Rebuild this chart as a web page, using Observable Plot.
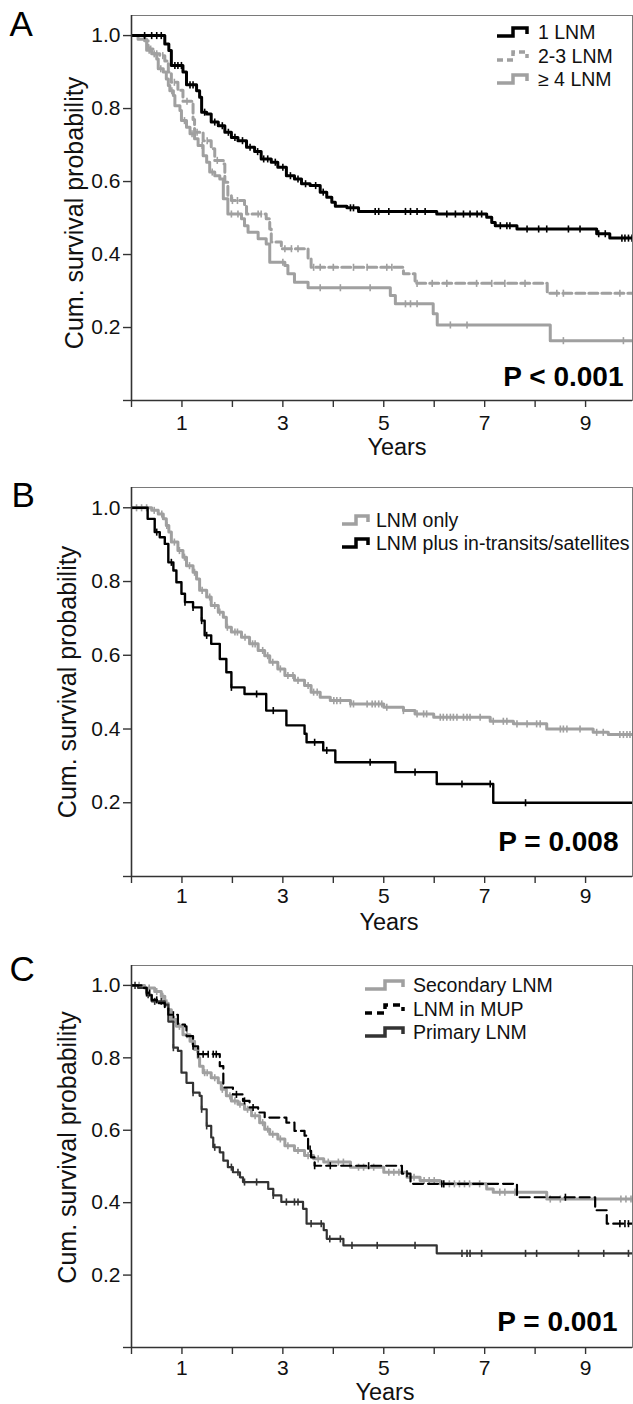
<!DOCTYPE html>
<html><head><meta charset="utf-8">
<script src="https://cdn.jsdelivr.net/npm/d3@7"></script>
<script src="https://cdn.jsdelivr.net/npm/@observablehq/plot@0.6"></script>
<style>
html,body{margin:0;padding:0;background:#fff;}
#root{position:relative;width:633px;height:1404px;overflow:hidden;font-family:"Liberation Sans",Arial,sans-serif;}
.panel{position:absolute;left:0;width:633px;}
.lg{position:absolute;font-size:19.5px;color:#111;white-space:nowrap;line-height:20px;}
.lg svg{position:absolute;top:3px;}
.lg span{position:absolute;top:0;}
</style></head>
<body><div id="root"></div>
<script>
// ---------- Panel A : number of LNM ----------
const aT1 = [0,0.66,0.74,0.79,1.02,1.09,1.29,1.35,1.39,1.49,1.58,1.72,1.85,1.98,2.11,2.28,2.44,2.57,2.77,2.90,3.07,3.23,3.37,3.54,3.74,3.87,3.97,4.04,4.27,4.50,6.05,7.04,7.14,7.21,7.64,9.22,9.48];
const aS1 = [1,0.977,0.959,0.918,0.90,0.865,0.849,0.831,0.79,0.785,0.763,0.753,0.735,0.721,0.712,0.694,0.682,0.662,0.653,0.639,0.616,0.607,0.594,0.589,0.571,0.557,0.543,0.532,0.528,0.518,0.511,0.502,0.488,0.479,0.470,0.457,0.445];
const aC1 = [0.26,0.40,0.50,0.59,0.86,0.92,0.99,1.16,1.22,1.45,1.65,1.80,1.92,2.05,2.2,2.35,2.5,2.62,2.7,2.85,3.0,3.15,3.3,3.45,3.65,3.8,4.34,4.40,4.83,4.9,5.1,5.43,5.53,5.66,5.82,6.25,6.42,6.58,6.71,6.85,6.94,7.31,7.44,7.5,7.84,8.07,8.23,8.66,8.89,9.26,9.39,9.72,9.78,9.85,9.92];
const aT2 = [0,0.26,0.33,0.43,0.56,0.66,0.73,0.79,0.92,1.02,1.22,1.25,1.42,1.58,1.65,1.82,1.85,1.91,1.98,2.24,2.28,2.67,2.74,2.77,2.97,3.50,3.56,5.39,5.62,8.24];
const aS2 = [1,0.986,0.963,0.950,0.945,0.93,0.90,0.872,0.85,0.82,0.77,0.735,0.712,0.69,0.658,0.648,0.598,0.562,0.548,0.534,0.511,0.498,0.47,0.434,0.416,0.388,0.365,0.347,0.321,0.294];
const aC2 = [0.38,0.5,0.62,0.85,1.1,1.3,1.5,1.7,2.0,2.1,2.51,2.57,3.04,3.17,3.30,3.61,3.74,4.0,4.4,4.67,5.06,5.16,5.66,5.96,6.25,6.84,7.14,7.4,7.8,8.43,8.56,9.68];
const aT3 = [0,0.13,0.30,0.40,0.50,0.53,0.63,0.69,0.73,0.76,0.83,0.86,0.96,0.99,1.09,1.16,1.25,1.32,1.42,1.49,1.55,1.65,1.75,1.82,1.91,2.18,2.24,2.31,2.51,2.67,2.74,3.04,3.10,3.23,3.50,5.13,5.23,5.98,6.06,8.30];
const aS3 = [1,0.99,0.96,0.95,0.936,0.909,0.90,0.881,0.863,0.849,0.836,0.808,0.795,0.767,0.749,0.731,0.717,0.699,0.671,0.653,0.626,0.616,0.607,0.553,0.511,0.498,0.479,0.461,0.443,0.429,0.379,0.37,0.347,0.324,0.309,0.288,0.265,0.238,0.207,0.164];
const aC3 = [0.35,0.45,0.58,0.8,1.05,1.2,1.4,1.6,1.98,2.11,3.0,3.74,4.14,4.73,5.43,5.53,5.66,6.32,6.65,8.56,9.75];
const aLegend = ["1 LNM", "2-3 LNM", "\u2265 4 LNM"];

// ---------- Panel B : in-transits / satellites ----------
const bT1 = [0,0.40,0.53,0.63,0.69,0.74,0.79,0.92,1.02,1.09,1.22,1.29,1.35,1.49,1.58,1.72,1.82,1.88,1.98,2.18,2.34,2.51,2.64,2.74,2.90,3.04,3.23,3.43,3.56,3.74,3.94,4.34,5.0,5.39,5.62,5.99,7.11,7.57,8.23,9.15,9.45];
const bS1 = [1,0.993,0.983,0.97,0.952,0.934,0.907,0.884,0.866,0.843,0.825,0.807,0.776,0.758,0.735,0.717,0.703,0.676,0.663,0.649,0.631,0.613,0.599,0.581,0.563,0.545,0.532,0.518,0.50,0.486,0.477,0.468,0.459,0.45,0.441,0.432,0.421,0.414,0.40,0.391,0.385];
const bC1 = [0.1,0.2,0.3,0.45,0.6,0.7,0.85,0.95,1.05,1.15,1.25,1.4,1.55,1.65,1.75,1.9,2.05,2.1,2.25,2.4,2.45,2.6,2.7,2.8,2.95,3.1,3.2,3.3,3.5,3.61,3.68,4.01,4.07,4.14,4.34,4.40,4.67,4.77,4.83,4.90,4.96,5.06,5.39,5.66,5.79,5.85,6.12,6.18,6.25,6.32,6.38,6.45,6.58,6.65,6.71,6.91,7.17,7.37,7.44,7.64,7.84,8.03,8.10,8.5,8.56,8.63,8.89,9.22,9.35,9.68,9.75,9.82,9.88];
const bT2 = [0,0.32,0.46,0.56,0.66,0.73,0.83,0.89,0.99,1.06,1.22,1.39,1.45,1.58,1.75,1.88,1.98,2.24,2.67,3.07,3.43,3.47,3.80,4.04,5.23,6.05,7.17];
const bS2 = [1,0.97,0.934,0.92,0.902,0.852,0.83,0.798,0.767,0.744,0.73,0.694,0.654,0.631,0.59,0.554,0.513,0.495,0.45,0.41,0.387,0.364,0.342,0.31,0.283,0.251,0.20];
const bC2 = [0.5,0.79,1.06,1.22,1.39,1.49,1.98,2.48,2.81,3.63,3.87,4.73,5.62,6.55,7.11,7.81];
const bLegend = ["LNM only", "LNM plus in-transits/satellites"];

// ---------- Panel C : origin of LNM ----------
const cT1 = [0,0.26,0.46,0.59,0.66,0.73,0.79,0.89,1.02,1.16,1.25,1.32,1.35,1.42,1.58,1.72,1.78,1.88,1.98,2.11,2.24,2.38,2.54,2.64,2.74,2.90,3.04,3.23,3.43,3.61,3.81,4.34,5.0,5.46,5.72,6.12,7.04,7.17,8.23];
const cS1 = [1,0.993,0.983,0.97,0.951,0.933,0.906,0.887,0.864,0.846,0.823,0.80,0.777,0.759,0.745,0.731,0.713,0.695,0.681,0.672,0.658,0.64,0.621,0.603,0.589,0.576,0.557,0.544,0.53,0.521,0.512,0.498,0.484,0.47,0.461,0.452,0.438,0.429,0.41];
const cC1 = [0.15,0.35,0.5,0.62,0.7,0.85,0.95,1.1,1.2,1.3,1.45,1.5,1.65,1.8,1.95,2.05,2.15,2.3,2.45,2.6,2.7,2.8,2.95,3.1,3.3,3.5,3.7,3.9,4.1,4.2,4.5,4.6,4.8,5.1,5.2,5.3,5.6,5.8,5.9,6.0,6.3,6.4,6.5,6.6,6.7,6.9,7.3,7.4,7.6,8.3,8.5,9.7,9.8,9.9];
const cT2 = [0,0.20,0.30,0.40,0.53,0.66,0.73,0.92,1.06,1.09,1.22,1.32,1.75,1.82,2.01,2.21,2.34,2.51,2.64,3.07,3.23,3.43,3.50,3.56,3.63,5.36,5.53,7.64,9.19,9.42];
const cS2 = [1,0.993,0.979,0.96,0.951,0.937,0.919,0.892,0.887,0.86,0.832,0.81,0.777,0.718,0.699,0.681,0.663,0.649,0.635,0.621,0.598,0.585,0.548,0.525,0.502,0.48,0.452,0.415,0.379,0.342];
const cC2 = [0.3,0.36,0.5,0.83,1.22,1.32,1.42,1.52,1.62,1.68,2.08,2.24,2.41,3.54,3.63,3.94,4.7,5.46,6.15,6.19,8.6,9.68,9.78,9.85];
const cT3 = [0,0.13,0.30,0.40,0.66,0.73,0.83,0.92,0.99,1.09,1.22,1.35,1.39,1.49,1.58,1.62,1.75,1.82,1.91,2.01,2.15,2.21,2.71,2.81,2.97,3.40,3.47,3.81,3.87,4.20,6.05];
const cS3 = [1,0.993,0.974,0.956,0.947,0.90,0.828,0.819,0.759,0.731,0.704,0.695,0.658,0.612,0.58,0.553,0.539,0.516,0.498,0.484,0.47,0.457,0.438,0.42,0.402,0.383,0.342,0.324,0.30,0.282,0.26];
const cC3 = [0.07,0.33,0.46,0.59,0.83,1.22,1.39,1.49,1.65,1.98,2.11,2.24,2.48,2.81,3.07,3.23,3.30,3.56,3.76,3.93,4.14,4.37,4.87,5.62,6.55,6.65,6.71,6.94,7.81,8.03,8.86,9.36,9.85];
const cLegend = ["Secondary LNM", "LNM in MUP", "Primary LNM"];

// ---------- axes ----------
const xTicks = [0,1,2,3,4,5,6,7,8,9];
const xLabelled = [1,3,5,7,9];
const yTicks = [0,0.2,0.4,0.6,0.8,1.0];
const xMax = 9.93;
const yMax = 1.055;

const GRAY = "#a0a0a0";
const tickSym = {draw(ctx, size){ const h = Math.sqrt(size)/2; ctx.moveTo(0,-h); ctx.lineTo(0,h); }};

function rows(T, S){ const r = T.map((t,i)=>({t, s:S[i]})); r.push({t:10, s:S[S.length-1]}); return r; }
function sAt(T, S, t){ let v = S[0]; for (let i=0;i<T.length;i++){ if (T[i] <= t) v = S[i]; else break; } return v; }
function censors(T, S, C){ return C.map(t => ({t, s:sAt(T,S,t)})); }

function panel(cfg){
  const marks = [Plot.frame({stroke:"#7a7a7a", strokeWidth:1})];
  for (const c of cfg.curves){
    marks.push(Plot.line(rows(c.T,c.S), {x:"t", y:"s", curve:"step-after", stroke:c.color, strokeWidth:c.w, strokeDasharray:c.dash, clip:true}));
    marks.push(Plot.dot(censors(c.T,c.S,c.C), {x:"t", y:"s", symbol:tickSym, r:4, stroke:c.color, strokeWidth:1.6, fill:"none", clip:true}));
  }
  marks.push(
    Plot.ruleX([0], {stroke:"#333", strokeWidth:1.6}),
    Plot.ruleY([0], {stroke:"#333", strokeWidth:1.6}),
    Plot.axisX({ticks:xTicks, tickFormat:d => xLabelled.includes(d) ? String(d) : "", tickSize:7, tickPadding:cfg.xPad, label:null, stroke:"#333", strokeWidth:1.4, fontSize:21, fill:"#111"}),
    Plot.axisY({ticks:yTicks, tickFormat:d => d === 0 ? "" : d.toFixed(1), tickSize:8, tickPadding:3, label:null, stroke:"#333", strokeWidth:1.4, fontSize:21, fill:"#111"}),
    Plot.text(["Years"], {frameAnchor:"bottom", lineAnchor:"middle", textAnchor:"middle", dx:cfg.yearsDx, dy:cfg.yearsDy, fontSize:23.5, fill:"#111"}),
    Plot.text(["Cum. survival probability"], {frameAnchor:"left", textAnchor:"middle", lineAnchor:"middle", rotate:-90, dx:cfg.ylabDx, dy:cfg.ylabDy, fontSize:25, fill:"#111"}),
    Plot.text([cfg.p], {frameAnchor:"bottom-right", textAnchor:"end", lineAnchor:"middle", dx:cfg.pDx, dy:cfg.pDy, fontSize:28, fontWeight:"bold", fill:"#000"}),
    Plot.text([cfg.letter], {frameAnchor:"top-left", textAnchor:"start", lineAnchor:"middle", dx:cfg.letDx, dy:cfg.letDy, fontSize:35, fontFamily:"Liberation Sans, Arial, sans-serif", fill:"#000"})
  );
  return Plot.plot({
    width:633, height:cfg.height,
    marginLeft:131, marginRight:1, marginTop:cfg.mt, marginBottom:cfg.mb,
    x:{domain:[0,xMax], axis:null},
    y:{domain:[0,yMax], axis:null},
    style:{fontFamily:"Liberation Sans, Arial, sans-serif", fontSize:"20px", color:"#111", background:"transparent", overflow:"visible"},
    marks
  });
}

function legend(root, top0, items, left, rowGap, iconW, textLeft, sw){
  items.forEach((it, i) => {
    const d = document.createElement("div");
    d.className = "lg";
    d.style.left = left + "px";
    d.style.top = (top0 + i*rowGap - 10) + "px";
    const w = iconW;
    const dash = it.dash ? ` stroke-dasharray="${it.dash}"` : "";
    d.innerHTML = `<svg width="${w}" height="14" style="left:0"><path d="M0,11 H${(w*0.5).toFixed(1)} V3 H${w-2} V9" fill="none" stroke="${it.color}" stroke-width="${sw}" stroke-linejoin="miter"${dash}/></svg><span style="left:${textLeft-left}px">${it.label}</span>`;
    root.appendChild(d);
  });
}

const root = document.getElementById("root");
function place(node, top){ const d = document.createElement("div"); d.className="panel"; d.style.top = top+"px"; d.appendChild(node); root.appendChild(d); }

place(panel({
  height:470, mt:15, mb:70, letter:"A", p:"P < 0.001", xPad:8,
  yearsDx:15, yearsDy:47, ylabDx:-57, ylabDy:5, pDx:-9, pDy:-23, letDx:-122, letDy:9,
  curves:[
    {T:aT3, S:aS3, C:aC3, color:GRAY, w:3},
    {T:aT2, S:aS2, C:aC2, color:GRAY, w:3, dash:"9,4"},
    {T:aT1, S:aS1, C:aC1, color:"#000", w:3}
  ]
}), 0);

place(panel({
  height:465, mt:17, mb:59, letter:"B", p:"P = 0.008", xPad:5,
  yearsDx:7, yearsDy:46, ylabDx:-64, ylabDy:0, pDx:-14, pDy:-34, letDx:-120, letDy:8,
  curves:[
    {T:bT1, S:bS1, C:bC1, color:GRAY, w:3},
    {T:bT2, S:bS2, C:bC2, color:"#000", w:2.4}
  ]
}), 470);

place(panel({
  height:469, mt:30, mb:57, letter:"C", p:"P = 0.001", xPad:6,
  yearsDx:3, yearsDy:45, ylabDx:-64, ylabDy:-9, pDx:-15, pDy:-25, letDx:-122, letDy:4,
  curves:[
    {T:cT1, S:cS1, C:cC1, color:GRAY, w:3},
    {T:cT3, S:cS3, C:cC3, color:"#333", w:2.2},
    {T:cT2, S:cS2, C:cC2, color:"#000", w:2.2, dash:"10,5"}
  ]
}), 935);

legend(root, 32, [
  {label:aLegend[0], color:"#000"},
  {label:aLegend[1], color:GRAY, dash:"6,4"},
  {label:aLegend[2], color:GRAY}
], 497, 23.5, 32, 538, 3.5);

legend(root, 520, [
  {label:bLegend[0], color:GRAY},
  {label:bLegend[1], color:"#000"}
], 342, 23, 28, 376, 3.5);

legend(root, 985, [
  {label:cLegend[0], color:GRAY},
  {label:cLegend[1], color:"#000", dash:"7,5"},
  {label:cLegend[2], color:"#333"}
], 365, 23.5, 40, 413, 3.5);
</script>
</body></html>
